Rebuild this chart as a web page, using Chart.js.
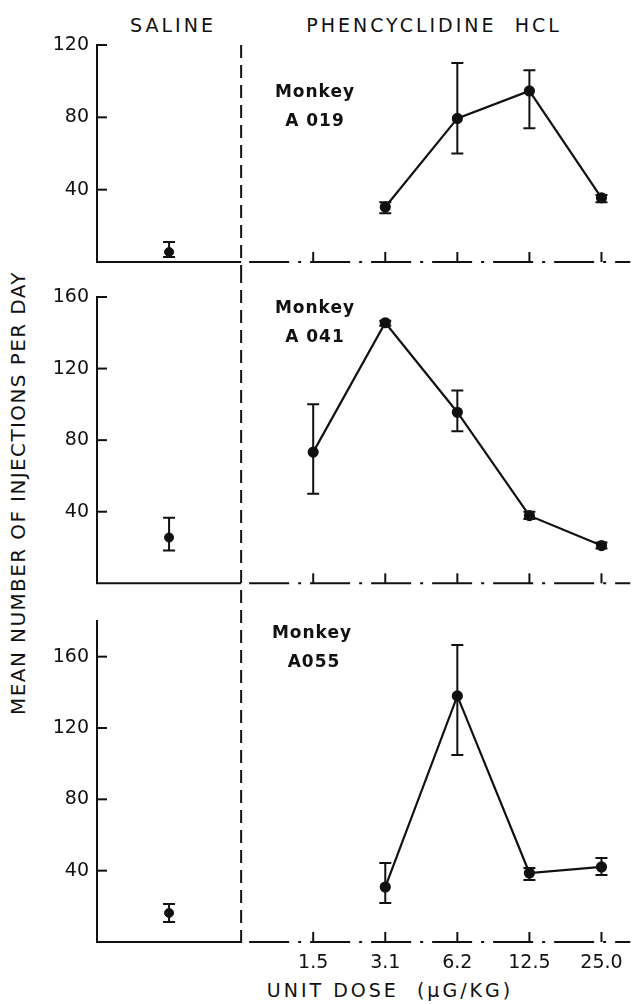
<!DOCTYPE html>
<html>
<head>
<meta charset="utf-8">
<script src="https://cdn.jsdelivr.net/npm/chart.js@4.4.1/dist/chart.umd.min.js"></script>
<style>
  html, body { margin: 0; padding: 0; background: #fff; }
  #fig { position: relative; width: 637px; height: 1004px; overflow: hidden;
         font-family: "DejaVu Sans", sans-serif; color: #111; }
  .cv { position: absolute; left: 0; }
  .lbl { position: absolute; white-space: pre; transform: translate(-50%, -50%);
         font-size: 19px; letter-spacing: 3px; }
  .monkey { position: absolute; white-space: pre; transform: translate(-50%, -50%);
            font-size: 17px; font-weight: bold; letter-spacing: 1px; }
  #ytitle { position: absolute; left: 18px; top: 493px; white-space: pre;
            transform: translate(-50%, -50%) rotate(-90deg);
            font-size: 20px; letter-spacing: 1.4px; }
</style>
</head>
<body>
<div id="fig">
  <div class="lbl" style="left:173px; top:25px;">SALINE</div>
  <div class="lbl" style="left:434px; top:25px;">PHENCYCLIDINE  HCL</div>
  <div id="ytitle">MEAN NUMBER OF INJECTIONS PER DAY</div>
  <div class="lbl" style="left:390px; top:990px;">UNIT DOSE  (μG/KG)</div>

  <canvas id="c1" class="cv" width="637" height="240" style="top:30px"></canvas>
  <canvas id="c2" class="cv" width="637" height="320" style="top:270px"></canvas>
  <canvas id="c3" class="cv" width="637" height="414" style="top:590px"></canvas>

  <div class="monkey" style="left:315px; top:91px;">Monkey</div>
  <div class="monkey" style="left:315px; top:120px;">A 019</div>
  <div class="monkey" style="left:315px; top:307px;">Monkey</div>
  <div class="monkey" style="left:315px; top:336px;">A 041</div>
  <div class="monkey" style="left:312px; top:632px;">Monkey</div>
  <div class="monkey" style="left:314px; top:661px;">A055</div>
</div>

<script>
(function () {
  'use strict';

  // ── Data ───────────────────────────────────────────────────────
  var DOSES = ['1.5', '3.1', '6.2', '12.5', '25.0'];   // µg/kg per injection

  // saline baseline per monkey: A 019, A 041, A055
  var SAL_MEAN = [5.5, 25.6, 16.3];
  var SAL_LO   = [2.8, 18.3, 11.2];
  var SAL_HI   = [11, 36.7, 21.3];

  var A019_MEAN = [null, 30.4, 79.4, 94.6, 35.5];
  var A019_LO   = [null, 27, 60, 74, 33];
  var A019_HI   = [null, 33, 110, 106, 37];

  var A041_MEAN = [73.3, 145.6, 95.6, 37.8, 21.1];
  var A041_LO   = [50, 144, 85, 36, 19.4];
  var A041_HI   = [100, 146.7, 107.8, 40, 22.8];

  var A055_MEAN = [null, 30.8, 138, 38.7, 42.1];
  var A055_LO   = [null, 21.9, 104.9, 34.8, 37.6];
  var A055_HI   = [null, 44.3, 166.6, 41.5, 47.1];

  var Y_TICKS_1 = [40, 80, 120];
  var Y_TICKS_2 = [40, 80, 120, 160];
  var Y_TICKS_3 = [40, 80, 120, 160];

  // ── Layout constants ───────────────────────────────────────────
  var INK = '#111';
  var FONT = { family: '"DejaVu Sans", sans-serif', size: 19 };
  var SALINE_X = 1, DIVIDER_X = 2, DOSE_X0 = 3, X_MAX = 7.4;

  // ── Decorations: baseline, ticks, divider, error bars ─────────
  var decor = {
    id: 'decor',
    afterDatasetsDraw: function (chart, args, opts) {
      var ctx = chart.ctx, xs = chart.scales.x, ys = chart.scales.y, a = chart.chartArea;
      var xd = xs.getPixelForValue(DIVIDER_X);
      ctx.save();
      ctx.strokeStyle = INK;
      ctx.lineWidth = 2;

      // baseline: solid under saline, broken under the drug doses
      ctx.beginPath(); ctx.moveTo(a.left - 1, a.bottom); ctx.lineTo(xd, a.bottom); ctx.stroke();
      ctx.setLineDash([40, 9, 3, 9]);
      ctx.beginPath(); ctx.moveTo(xd + 8, a.bottom); ctx.lineTo(a.right, a.bottom); ctx.stroke();
      ctx.setLineDash([]);

      // dose ticks pointing up
      DOSES.forEach(function (d, i) {
        var x = xs.getPixelForValue(DOSE_X0 + i);
        ctx.beginPath(); ctx.moveTo(x, a.bottom); ctx.lineTo(x, a.bottom - 10); ctx.stroke();
      });

      // y ticks pointing in
      ys.ticks.forEach(function (t) {
        var y = ys.getPixelForValue(t.value);
        ctx.beginPath(); ctx.moveTo(a.left, y); ctx.lineTo(a.left + 10, y); ctx.stroke();
      });

      // saline | drug divider
      ctx.setLineDash([13, 7]);
      ctx.beginPath(); ctx.moveTo(xd, opts.top); ctx.lineTo(xd, opts.bottom); ctx.stroke();
      ctx.setLineDash([]);

      // error bars
      chart.data.datasets.forEach(function (ds) {
        ds.data.forEach(function (p) {
          var x = xs.getPixelForValue(p.x);
          var y1 = ys.getPixelForValue(p.lo), y2 = ys.getPixelForValue(p.hi);
          ctx.beginPath();
          ctx.moveTo(x, y1); ctx.lineTo(x, y2);
          ctx.moveTo(x - 6, y1); ctx.lineTo(x + 6, y1);
          ctx.moveTo(x - 6, y2); ctx.lineTo(x + 6, y2);
          ctx.stroke();
        });
      });
      ctx.restore();
    }
  };

  function dosePoints(mean, lo, hi) {
    var pts = [];
    mean.forEach(function (m, i) {
      if (m === null) return;
      pts.push({ x: DOSE_X0 + i, y: m, lo: lo[i], hi: hi[i] });
    });
    return pts;
  }

  function buildPanel(id, k, mean, lo, hi, yMax, yTicks, pad, divider, showX) {
    return new Chart(document.getElementById(id), {
      type: 'line',
      data: {
        datasets: [{
          data: dosePoints(mean, lo, hi),
          borderColor: INK, borderWidth: 2.2,
          pointRadius: 4.5, pointBackgroundColor: INK, pointBorderColor: INK,
          tension: 0, clip: false
        }, {
          data: [{ x: SALINE_X, y: SAL_MEAN[k], lo: SAL_LO[k], hi: SAL_HI[k] }],
          showLine: false,
          pointRadius: 4.5, pointBackgroundColor: INK, pointBorderColor: INK,
          clip: false
        }]
      },
      options: {
        responsive: false,
        animation: false,
        layout: { padding: { top: pad[0], bottom: pad[1], left: 0, right: 0 } },
        plugins: {
          legend: { display: false },
          tooltip: { enabled: false },
          decor: { top: divider[0], bottom: divider[1] }
        },
        scales: {
          x: {
            type: 'linear', min: 0, max: X_MAX, display: showX,
            afterBuildTicks: function (s) {
              s.ticks = DOSES.map(function (d, i) { return { value: DOSE_X0 + i }; });
            },
            afterFit: function (s) {
              s.height = showX ? 62 : 0;
              s.paddingLeft = 0; s.paddingRight = 0;
            },
            ticks: {
              callback: function (v, i) { return DOSES[i]; },
              font: FONT, color: INK, padding: 10, autoSkip: false, maxRotation: 0
            },
            grid: { display: false, drawTicks: false },
            border: { display: false }
          },
          y: {
            min: 0, max: yMax,
            afterBuildTicks: function (s) {
              s.ticks = yTicks.map(function (v) { return { value: v }; });
            },
            afterFit: function (s) {
              s.width = 97;
              s.paddingTop = 0; s.paddingBottom = 0;
            },
            ticks: { font: FONT, color: INK, padding: 8 },
            grid: { display: false, drawTicks: false },
            border: { display: true, color: INK, width: 2 }
          }
        }
      },
      plugins: [decor]
    });
  }

  buildPanel('c1', 0, A019_MEAN, A019_LO, A019_HI, 120, Y_TICKS_1, [15, 8], [15, 240], false);
  buildPanel('c2', 1, A041_MEAN, A041_LO, A041_HI, 160, Y_TICKS_2, [27, 5], [0, 320], false);
  buildPanel('c3', 2, A055_MEAN, A055_LO, A055_HI, 180, Y_TICKS_3, [31, 0], [0, 358], true);
})();
</script>
</body>
</html>
